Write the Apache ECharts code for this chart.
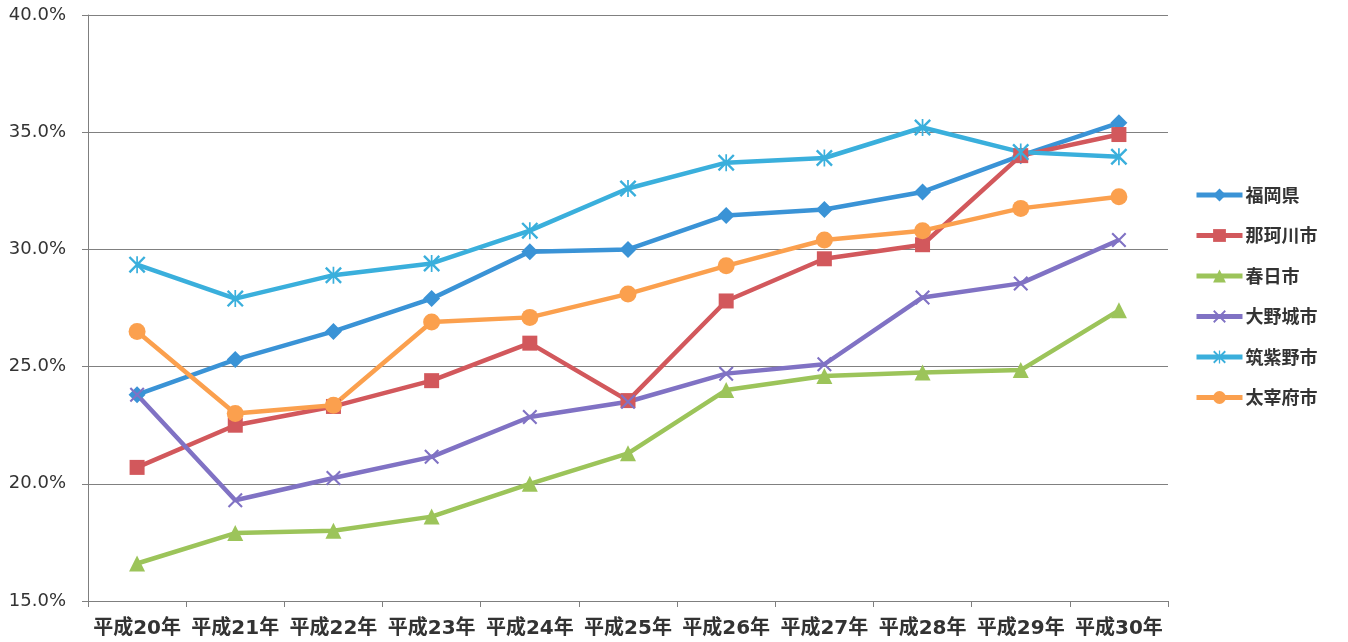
<!DOCTYPE html>
<html>
<head>
<meta charset="utf-8">
<script src="https://cdn.jsdelivr.net/npm/echarts@6/dist/echarts.min.js"></script>
<style>
html,body{margin:0;padding:0;background:#fff;}
#main{width:1348px;height:642px;}
</style>
</head>
<body>
<div id="main"></div>
<script>
const categories = ['平成20年','平成21年','平成22年','平成23年','平成24年','平成25年','平成26年','平成27年','平成28年','平成29年','平成30年'];
const fukuokaKen = [23.8, 25.3, 26.5, 27.9, 29.9, 30.0, 31.45, 31.7, 32.45, 34.0, 35.4];
const nakagawa   = [20.7, 22.5, 23.3, 24.4, 26.0, 23.55, 27.8, 29.6, 30.2, 34.0, 34.9];
const kasuga     = [16.6, 17.9, 18.0, 18.6, 20.0, 21.3, 24.0, 24.6, 24.75, 24.85, 27.4];
const onojo      = [23.8, 19.3, 20.25, 21.15, 22.85, 23.5, 24.7, 25.1, 27.95, 28.55, 30.4];
const chikushino = [29.35, 27.9, 28.9, 29.4, 30.8, 32.6, 33.7, 33.9, 35.2, 34.15, 33.95];
const dazaifu    = [26.5, 23.0, 23.35, 26.9, 27.1, 28.1, 29.3, 30.4, 30.8, 31.75, 32.25];
const seriesNames = ['福岡県','那珂川市','春日市','大野城市','筑紫野市','太宰府市'];
const yTicks = {min: 15, max: 40, interval: 5};

const colors = ['#3a93d6','#d2585c','#9cc45a','#8072c4','#3aafdc','#fba04e'];
const xPath = 'path://M0,1L1,0L10,9L9,10Z M9,0L10,1L1,10L0,9Z';
const starPath = 'path://M0,1L1,0L10,9L9,10Z M9,0L10,1L1,10L0,9Z M4.5,0L5.5,0L5.5,10L4.5,10Z';
const symbols = ['diamond','rect','triangle',xPath,starPath,'circle'];
const symbolSizes = [17,15,16,15,17,17];
const dataSets = [fukuokaKen, nakagawa, kasuga, onojo, chikushino, dazaifu];

const cjk = '"Noto Sans CJK JP", "Noto Sans", sans-serif';
const mixed = '"DejaVu Sans", "Noto Sans CJK JP", sans-serif';
const chart = echarts.init(document.getElementById('main'), null, {renderer:'canvas'});
chart.setOption({
  animation: false,
  backgroundColor: '#ffffff',
  color: colors,
  grid: {left: 88, right: 180, top: 15, bottom: 41, containLabel: false},
  legend: {
    orient: 'vertical',
    left: 1189,
    top: 181,
    itemGap: 22.5,
    itemWidth: 46,
    itemHeight: 16,
    lineStyle: {width: 5},
    textStyle: {fontFamily: cjk, fontSize: 18, fontWeight: 'bold', color: '#333', padding:[0,0,0,-2]},
    data: seriesNames
  },
  xAxis: {
    type: 'category',
    data: categories,
    boundaryGap: true,
    axisLine: {lineStyle: {color: '#7f7f7f', width: 1}},
    axisTick: {show: true, length: 6, alignWithLabel: false, lineStyle: {color: '#7f7f7f'}},
    axisLabel: {fontFamily: mixed, fontSize: 20, fontWeight: 'bold', color: '#333', margin: 18, interval: 0}
  },
  yAxis: {
    type: 'value',
    min: yTicks.min, max: yTicks.max, interval: yTicks.interval,
    axisLine: {show: true, lineStyle: {color: '#7f7f7f', width: 1}},
    axisTick: {show: true, length: 6, lineStyle: {color: '#7f7f7f'}},
    splitLine: {show: true, lineStyle: {color: '#808080', width: 1}},
    axisLabel: {fontFamily: mixed, fontSize: 18, color: '#333', margin: 22, padding: [3,0,0,0],
      formatter: v => v.toFixed(1) + '%'}
  },
  series: seriesNames.map((name, i) => ({
    name: name,
    type: 'line',
    data: dataSets[i],
    symbol: symbols[i],
    symbolSize: symbolSizes[i],
    showAllSymbol: true,
    lineStyle: {width: 4.5, color: colors[i]},
    itemStyle: {color: colors[i], borderWidth: 0},
    emphasis: {disabled: true}
  }))
});
</script>
</body>
</html>
